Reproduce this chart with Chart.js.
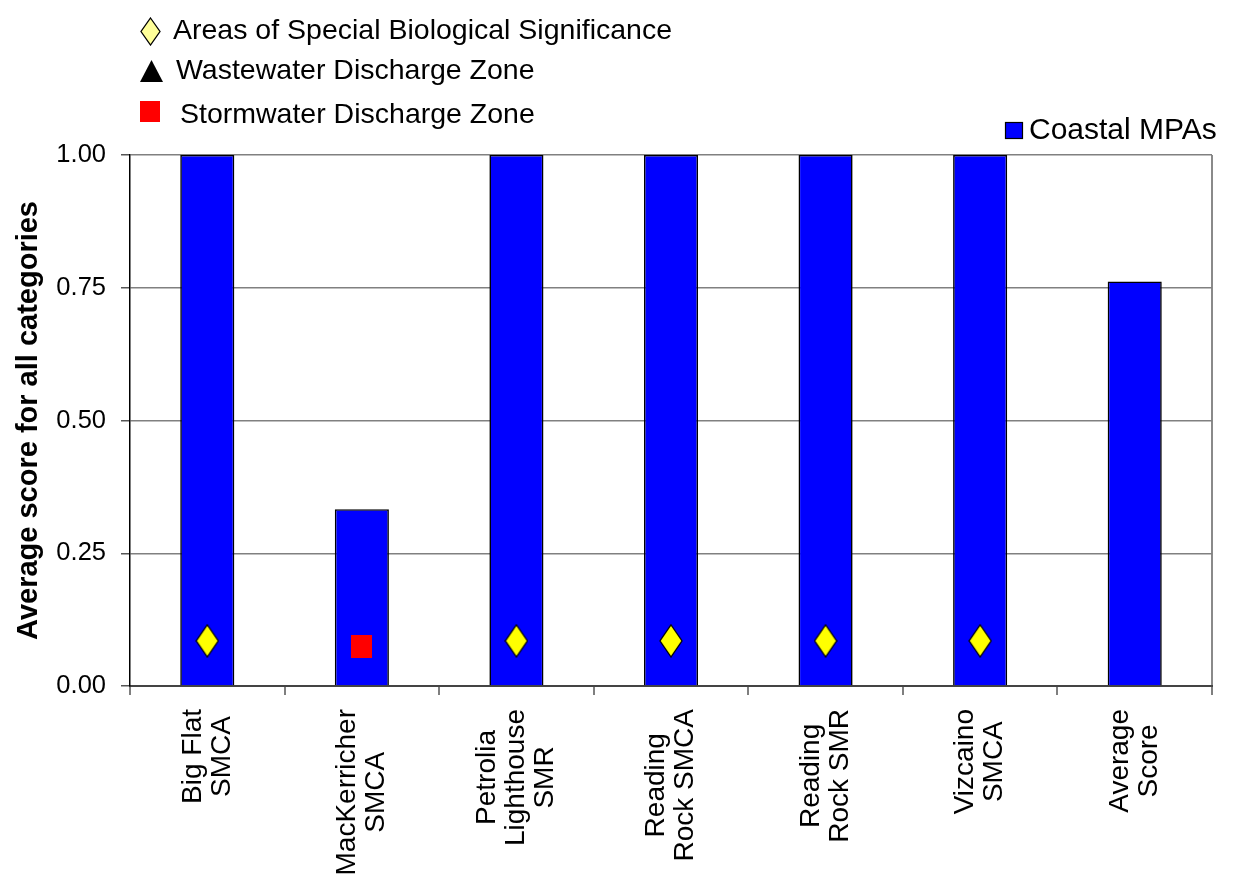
<!DOCTYPE html>
<html>
<head>
<meta charset="utf-8">
<script src="https://cdn.jsdelivr.net/npm/chart.js@4/dist/chart.umd.min.js"></script>
<style>
html, body { margin: 0; padding: 0; background: #fff; }
#wrap { width: 1233px; height: 876px; }
</style>
</head>
<body>
<div id="wrap"><canvas id="myChart" width="1233" height="876"></canvas></div>
<script>
// sites along the x axis (each entry is one label, split over lines)
var siteNames = [
	['Big Flat', 'SMCA'],
	['MacKerricher', 'SMCA'],
	['Petrolia', 'Lighthouse', 'SMR'],
	['Reading', 'Rock SMCA'],
	['Reading', 'Rock SMR'],
	['Vizcaino', 'SMCA'],
	['Average', 'Score']
];
var coastalScores = [1.0, 0.333, 1.0, 1.0, 1.0, 1.0, 0.762];
// marker rows sit near the foot of each bar
var asbsMarks = [0.085, null, 0.085, 0.085, 0.085, 0.085, null];
var wastewaterMarks = [null, null, null, null, null, null, null];
var stormwaterMarks = [null, 0.074, null, null, null, null, null];
var scoreTicks = [0, 0.25, 0.5, 0.75, 1.0];

var FONT = "'Liberation Sans', Arial, sans-serif";
Chart.defaults.font.family = FONT;
Chart.defaults.color = '#000';

function makeMarker(w, h, paint) {
	var c = document.createElement('canvas');
	c.width = w;
	c.height = h;
	paint(c.getContext('2d'), w, h);
	return c;
}

function diamond(fill) {
	return function (g, w, h) {
		g.beginPath();
		g.moveTo(w / 2, 1);
		g.lineTo(w - 1, h / 2);
		g.lineTo(w / 2, h - 1);
		g.lineTo(1, h / 2);
		g.closePath();
		g.fillStyle = fill;
		g.fill();
		g.strokeStyle = '#000';
		g.lineWidth = 1.3;
		g.stroke();
	};
}

function triangle(g, w, h) {
	g.beginPath();
	g.moveTo(w / 2, 0);
	g.lineTo(w, h);
	g.lineTo(0, h);
	g.closePath();
	g.fillStyle = '#000';
	g.fill();
}

function square(g, w, h) {
	g.fillStyle = '#FF0000';
	g.fillRect(0, 0, w, h);
}

var asbsPoint = makeMarker(24, 34, diamond('#FFFF00'));
var wastePoint = makeMarker(22, 22, triangle);
var stormPoint = makeMarker(21, 23, square);

// legend swatches for the marker rows
var asbsKey = makeMarker(21, 29, diamond('#FFFF99'));
var wasteKey = makeMarker(23, 22, triangle);
var stormKey = makeMarker(20, 21, square);

var markerLegend = {
	id: 'markerLegend',
	afterDraw: function (chart) {
		var ctx = chart.ctx;
		var rows = [
			{ img: asbsKey, label: chart.data.datasets[1].label, x: 150, y: 31, tx: 173 },
			{ img: wasteKey, label: chart.data.datasets[2].label, x: 151, y: 71, tx: 176 },
			{ img: stormKey, label: chart.data.datasets[3].label, x: 150, y: 111, tx: 180, ty: 115 }
		];
		ctx.save();
		ctx.font = '28.5px ' + FONT;
		ctx.fillStyle = '#000';
		ctx.textBaseline = 'middle';
		ctx.textAlign = 'left';
		rows.forEach(function (r) {
			ctx.drawImage(r.img, Math.round(r.x - r.img.width / 2), Math.round(r.y - r.img.height / 2));
			ctx.fillText(r.label, r.tx, r.ty || r.y);
		});

		// series key at the top right
		var bar = chart.data.datasets[0];
		ctx.fillStyle = bar.backgroundColor;
		ctx.fillRect(1005, 122, 18, 17);
		ctx.strokeStyle = '#000';
		ctx.lineWidth = 1.2;
		ctx.strokeRect(1005.5, 122.5, 17, 16);
		ctx.font = '30px ' + FONT;
		ctx.fillStyle = '#000';
		ctx.fillText(bar.label, 1029, 131);
		ctx.restore();
	}
};

// rotated category labels, lines centred on each other
var siteLabels = {
	id: 'siteLabels',
	afterDraw: function (chart) {
		var ctx = chart.ctx;
		var xs = chart.scales.x;
		var top = chart.chartArea.bottom + 23;
		var lh = 29;
		ctx.save();
		ctx.font = '28px ' + FONT;
		ctx.fillStyle = '#000';
		ctx.textAlign = 'center';
		ctx.textBaseline = 'middle';
		siteNames.forEach(function (lines, i) {
			var maxW = 0;
			lines.forEach(function (s) { maxW = Math.max(maxW, ctx.measureText(s).width); });
			ctx.save();
			ctx.translate(xs.getPixelForValue(i), top + maxW / 2);
			ctx.rotate(-Math.PI / 2);
			lines.forEach(function (s, j) {
				ctx.fillText(s, 0, (j - (lines.length - 1) / 2) * lh);
			});
			ctx.restore();
		});
		ctx.restore();
	}
};

var ctx = document.getElementById('myChart');
var myChart = new Chart(ctx, {
	type: 'bar',
	data: {
		labels: siteNames,
		datasets: [{
			label: 'Coastal MPAs',
			data: coastalScores,
			backgroundColor: '#0000FF',
			borderColor: '#000',
			borderWidth: 1.6,
			categoryPercentage: 1.0,
			barPercentage: 0.35,
			order: 2
		}, {
			type: 'line',
			label: 'Areas of Special Biological Significance',
			data: asbsMarks,
			showLine: false,
			pointStyle: asbsPoint,
			order: 1
		}, {
			type: 'line',
			label: 'Wastewater Discharge Zone',
			data: wastewaterMarks,
			showLine: false,
			pointStyle: wastePoint,
			order: 1
		}, {
			type: 'line',
			label: 'Stormwater Discharge Zone',
			data: stormwaterMarks,
			showLine: false,
			pointStyle: stormPoint,
			order: 1
		}]
	},
	options: {
		responsive: false,
		animation: false,
		events: [],
		layout: { padding: { top: 155, right: 21, left: 0, bottom: 0 } },
		plugins: {
			legend: { display: false },
			tooltip: { enabled: false }
		},
		scales: {
			x: {
				offset: true,
				ticks: { display: false },
				grid: {
					offset: true,
					drawOnChartArea: true,
					// only the closing line on the right edge shows inside the plot
					color: function (c) { return c.type === 'tick' ? 'rgba(0,0,0,0)' : '#8a8a8a'; },
					lineWidth: 2,
					tickColor: '#555',
					tickLength: 9,
					tickWidth: 1.5
				},
				border: { color: '#444', width: 2 },
				afterFit: function (scale) { scale.height = 190; }
			},
			y: {
				min: 0,
				max: 1,
				afterBuildTicks: function (scale) {
					scale.ticks = scoreTicks.map(function (v) { return { value: v }; });
				},
				ticks: {
					font: { size: 25.5 },
					color: '#000',
					padding: 15,
					callback: function (v) { return Number(v).toFixed(2); }
				},
				grid: {
					color: '#808080',
					lineWidth: 1.5,
					tickColor: '#555',
					tickLength: 9
				},
				border: { color: '#000', width: 1.5 },
				title: {
					display: true,
					text: 'Average score for all categories',
					font: { size: 29, weight: 'bold', lineHeight: 1 },
					color: '#000',
					padding: { top: 14, bottom: 0 }
				},
				afterFit: function (scale) { scale.width = 130; }
			}
		}
	},
	plugins: [markerLegend, siteLabels]
});
</script>
</body>
</html>
